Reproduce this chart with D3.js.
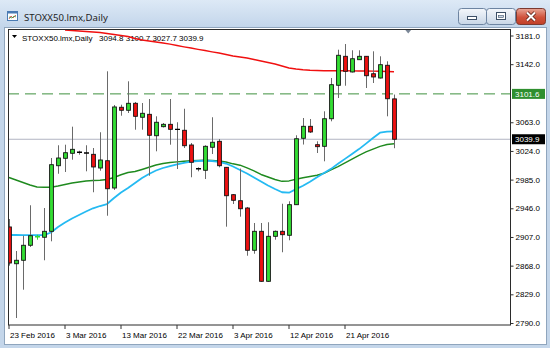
<!DOCTYPE html>
<html lang="en">
  <head>
    <meta charset="utf-8" />
    <title>STOXX50.lmx,Daily</title>
    <script src="https://cdn.jsdelivr.net/npm/d3@7"></script>
    <style>
      body { margin: 0; background: #fff; }
      svg { display: block; }
      .ax text { font-family: "Liberation Sans", Arial, sans-serif; font-size: 8px; fill: #000; }
    </style>
  </head>
  <body>
    <script>
      //Width and height
      var w = 550;
      var h = 348;

      //Bars (daily, Sunday sessions included)
      var dates = [
        "2016-02-23", "2016-02-24", "2016-02-25", "2016-02-26", "2016-02-28", "2016-02-29",
        "2016-03-01", "2016-03-02", "2016-03-03", "2016-03-04", "2016-03-06", "2016-03-07",
        "2016-03-08", "2016-03-09", "2016-03-10", "2016-03-11", "2016-03-13", "2016-03-14",
        "2016-03-15", "2016-03-16", "2016-03-17", "2016-03-18", "2016-03-20", "2016-03-21",
        "2016-03-22", "2016-03-23", "2016-03-24", "2016-03-27", "2016-03-29", "2016-03-30",
        "2016-03-31", "2016-04-01", "2016-04-03", "2016-04-04", "2016-04-05", "2016-04-06",
        "2016-04-07", "2016-04-08", "2016-04-10", "2016-04-11", "2016-04-12", "2016-04-13",
        "2016-04-14", "2016-04-15", "2016-04-17", "2016-04-18", "2016-04-19", "2016-04-20",
        "2016-04-21", "2016-04-22", "2016-04-24", "2016-04-25", "2016-04-26", "2016-04-27",
        "2016-04-28", "2016-04-29"
      ];

      var open = [
        2920.6, 2870.6, 2875.3, 2895.7, 2907.0, 2906.6, 2914.7, 3003.9, 3014.0, 3020.8,
        3022.2, 3021.2, 3019.4, 3000.8, 3010.7, 2973.6, 3083.4, 3079.3, 3088.8, 3069.8,
        3073.8, 3044.7, 3057.0, 3060.2, 3053.4, 3052.1, 3032.1, 2999.8, 2997.7, 3029.0,
        3037.1, 3001.7, 2964.5, 2956.3, 2946.4, 2888.9, 2914.7, 2846.7, 2907.9, 2914.7,
        2909.3, 2950.9, 3041.2, 3057.5, 3032.5, 3030.3, 3067.8, 3113.3, 3152.7, 3131.4,
        3148.1, 3152.7, 3129.0, 3123.2, 3140.5, 3094.8
      ];
      var high = [
        2931.4, 2887.9, 2908.7, 2950.1, 2910.0, 2946.4, 3014.4, 3031.7, 3032.5, 3057.0,
        3024.3, 3031.7, 3028.0, 3049.4, 3132.3, 3086.5, 3086.9, 3118.7, 3090.6, 3089.2,
        3094.6, 3071.1, 3062.0, 3094.6, 3063.0, 3081.4, 3034.8, 3001.7, 3031.7, 3069.8,
        3040.2, 3002.2, 2965.4, 3000.0, 2947.8, 2926.0, 2926.0, 2927.0, 2915.8, 2952.2,
        2955.5, 3045.3, 3068.8, 3067.4, 3037.1, 3077.9, 3123.2, 3161.7, 3169.4, 3160.9,
        3160.9, 3153.1, 3159.5, 3152.7, 3145.9, 3100.7
      ];
      var low = [
        2868.0, 2796.8, 2835.3, 2893.4, 2903.3, 2875.3, 2901.1, 2993.0, 2995.4, 3012.1,
        3018.9, 2996.3, 2967.8, 2997.1, 2935.9, 2970.9, 3071.9, 3075.6, 3052.9, 3052.9,
        2990.3, 3023.5, 3055.9, 3032.5, 2999.4, 3028.0, 2988.2, 2996.3, 2985.8, 3019.8,
        3001.7, 2921.0, 2951.8, 2934.6, 2881.5, 2884.2, 2846.0, 2846.0, 2903.3, 2886.2,
        2902.5, 2950.5, 3032.7, 3048.4, 3021.2, 3009.9, 3064.3, 3096.0, 3112.7, 3130.7,
        3148.1, 3109.6, 3116.4, 3122.5, 3071.1, 3027.7
      ];
      var close = [
        2871.6, 2875.3, 2895.7, 2908.7, 2907.3, 2914.7, 3005.3, 3014.4, 3021.6, 3026.2,
        3022.2, 3021.2, 3002.2, 3011.7, 2972.6, 3083.8, 3079.3, 3088.8, 3071.1, 3075.2,
        3045.3, 3063.0, 3060.2, 3053.4, 3053.4, 3031.1, 3008.6, 2999.8, 3030.3, 3035.8,
        3003.9, 2963.1, 2956.9, 2945.4, 2888.9, 2914.7, 2846.7, 2907.9, 2914.7, 2910.1,
        2950.9, 3040.6, 3057.5, 3049.8, 3029.8, 3067.8, 3114.1, 3154.1, 3132.3, 3149.4,
        3152.7, 3126.3, 3124.6, 3141.3, 3095.0, 3039.9
      ];

      //Moving averages (red = slow, green = medium, blue = fast)
      var maRed = [
        null, null, null, null, null, null, null, null, 3188.5, 3187.8,
        3187.1, 3186.4, 3185.8, 3185.1, 3183.7, 3182.4, 3181.0, 3179.6, 3176.9, 3174.9,
        3173.5, 3172.2, 3170.8, 3169.2, 3167.4, 3165.6, 3164.0, 3162.2, 3160.6, 3158.8,
        3157.2, 3155.2, 3153.1, 3151.8, 3150.4, 3148.4, 3146.3, 3144.3, 3142.2, 3139.5,
        3136.8, 3135.4, 3134.4, 3133.7, 3133.3, 3133.1, 3133.0, 3133.0, 3133.0, 3132.9,
        3132.7, 3132.7, 3132.6, 3132.3, 3132.0, 3131.8
      ];
      var maGreen = [
        2987.9, 2984.5, 2981.1, 2977.7, 2975.0, 2974.6, 2974.7, 2976.3, 2978.4, 2980.4,
        2981.8, 2983.1, 2983.8, 2984.2, 2985.2, 2987.9, 2991.6, 2994.7, 2996.0, 2998.8,
        3001.8, 3004.9, 3006.9, 3008.3, 3009.2, 3010.0, 3010.6, 3011.0, 3011.3, 3011.0,
        3010.3, 3009.0, 3006.5, 3004.6, 3001.0, 2996.8, 2992.0, 2988.6, 2985.2, 2982.7,
        2983.2, 2985.5, 2987.5, 2989.2, 2990.9, 2993.6, 2998.1, 3002.8, 3007.9, 3013.0,
        3018.1, 3022.6, 3026.6, 3030.3, 3032.8, 3033.8
      ];
      var maBlue = [
        2909.7, 2909.7, 2909.4, 2909.4, 2909.4, 2909.4, 2913.1, 2920.6, 2926.7, 2932.1,
        2936.9, 2941.6, 2946.0, 2949.1, 2951.8, 2960.0, 2967.5, 2973.6, 2980.4, 2987.2,
        2992.6, 2997.4, 3000.8, 3003.5, 3005.8, 3007.9, 3009.6, 3010.3, 3010.7, 3010.3,
        3009.2, 3006.9, 3002.8, 2998.1, 2993.3, 2987.9, 2982.4, 2977.0, 2972.2, 2967.8,
        2967.2, 2972.0, 2976.7, 2982.2, 2988.2, 2994.1, 2999.6, 3006.5, 3013.2, 3019.8,
        3026.5, 3034.0, 3041.5, 3048.8, 3050.4, 3050.7
      ];

      //Axis ticks
      var priceTicks = [3181, 3142, 3063, 3024, 2985, 2946, 2907, 2868, 2829, 2790];
      var dateTicks = ["2016-02-23", "2016-03-03", "2016-03-13", "2016-03-22", "2016-04-03", "2016-04-12", "2016-04-21"];
      var dateLabels = ["23 Feb 2016", "3 Mar 2016", "13 Mar 2016", "22 Mar 2016", "3 Apr 2016", "12 Apr 2016", "21 Apr 2016"];

      var levelPrice = 3101.6;
      var lastPrice = 3039.9;
      var symbol = "STOXX50.lmx,Daily";

      //Plot box
      var pl = 8, pr = 511, pt = 29, pb = 325;

      var xScale = d3
        .scaleBand()
        .domain(dates)
        .range([pl - 2.5, pl - 2.5 + dates.length * 7]);
      var bw = xScale.bandwidth();
      function cx(d) {
        return xScale(d) + bw / 2;
      }

      var yScale = d3.scaleLinear().domain([2790, 3181]).range([323, 35.5]);

      var svg = d3
        .select("body")
        .append("svg")
        .attr("width", w)
        .attr("height", h);

      var defs = svg.append("defs");
      var tg = defs.append("linearGradient").attr("id", "tbar").attr("x1", 0).attr("y1", 0).attr("x2", 0).attr("y2", 1);
      tg.append("stop").attr("offset", "0%").attr("stop-color", "#dde9f6");
      tg.append("stop").attr("offset", "100%").attr("stop-color", "#c2d5ea");
      var bg = defs.append("linearGradient").attr("id", "btn").attr("x1", 0).attr("y1", 0).attr("x2", 0).attr("y2", 1);
      bg.append("stop").attr("offset", "0%").attr("stop-color", "#f4f7fb");
      bg.append("stop").attr("offset", "100%").attr("stop-color", "#c8d6e6");
      var rg = defs.append("linearGradient").attr("id", "cbtn").attr("x1", 0).attr("y1", 0).attr("x2", 0).attr("y2", 1);
      rg.append("stop").attr("offset", "0%").attr("stop-color", "#e9a797");
      rg.append("stop").attr("offset", "55%").attr("stop-color", "#d0533c");
      rg.append("stop").attr("offset", "100%").attr("stop-color", "#c13f27");
      defs.append("clipPath").attr("id", "plot")
        .append("rect")
        .attr("x", pl + 0.5).attr("y", pt + 0.5)
        .attr("width", pr - pl - 1).attr("height", pb - pt - 1);

      //Window frame
      svg.append("rect").attr("width", w).attr("height", h).attr("fill", "#c4d6ea");
      svg.append("rect").attr("width", w).attr("height", 28).attr("fill", "url(#tbar)");
      svg.append("rect")
        .attr("x", 4.5).attr("y", 27.5).attr("width", 542).attr("height", 317)
        .attr("fill", "#fff").attr("stroke", "#8fa5bd");

      //Title icon
      var icon = svg.append("g");
      icon.append("rect").attr("x", 7.5).attr("y", 11.5).attr("width", 10).attr("height", 9)
        .attr("fill", "#fff").attr("stroke", "#4a7bb3");
      icon.append("rect").attr("x", 7.5).attr("y", 11.5).attr("width", 10).attr("height", 2).attr("fill", "#4a7bb3");
      icon.append("path").attr("d", "M9,19 L11,16 L13,18 L16,15").attr("fill", "none").attr("stroke", "#d23c3c").attr("stroke-width", 0.8);
      icon.append("path").attr("d", "M9,17 L12,18 L14,16 L16,17").attr("fill", "none").attr("stroke", "#3c9c3c").attr("stroke-width", 0.8);

      svg.append("text")
        .attr("x", 24).attr("y", 20.5)
        .attr("font-family", "'Noto Sans', sans-serif").attr("font-size", "9.6px").attr("fill", "#1e1e1e")
        .text(symbol);

      //Window buttons
      svg.append("rect").attr("x", 458.5).attr("y", 8.5).attr("width", 28).attr("height", 16).attr("rx", 3)
        .attr("fill", "url(#btn)").attr("stroke", "#6d84a1");
      svg.append("rect").attr("x", 486.5).attr("y", 8.5).attr("width", 29).attr("height", 16).attr("rx", 3)
        .attr("fill", "url(#btn)").attr("stroke", "#6d84a1");
      svg.append("rect").attr("x", 516.5).attr("y", 8.5).attr("width", 29).attr("height", 16).attr("rx", 3)
        .attr("fill", "url(#cbtn)").attr("stroke", "#7c3a30");
      svg.append("rect").attr("x", 467.5).attr("y", 16.5).attr("width", 9).attr("height", 3)
        .attr("fill", "#fff").attr("stroke", "#3c4f66");
      svg.append("rect").attr("x", 496.5).attr("y", 12.5).attr("width", 9).attr("height", 7)
        .attr("fill", "#fff").attr("stroke", "#3c4f66");
      svg.append("rect").attr("x", 498.5).attr("y", 15.5).attr("width", 5).attr("height", 2)
        .attr("fill", "#c9d6e5").attr("stroke", "#3c4f66").attr("stroke-width", 0.6);
      svg.append("path").attr("d", "M527,12.5 L535,20.5 M535,12.5 L527,20.5")
        .attr("stroke", "#5a1f16").attr("stroke-width", 3.6);
      svg.append("path").attr("d", "M527,12.5 L535,20.5 M535,12.5 L527,20.5")
        .attr("stroke", "#fff").attr("stroke-width", 2);

      //Header
      svg.append("path").attr("d", "M12,35 L17,35 L14.5,38 Z").attr("fill", "#000");
      svg.append("text").attr("class", "hd")
        .attr("x", 22).attr("y", 40.5)
        .attr("font-family", "'Liberation Sans', Arial, sans-serif").attr("font-size", "8px")
        .text(symbol);
      svg.append("text")
        .attr("x", 99).attr("y", 40.5)
        .attr("font-family", "'Liberation Sans', Arial, sans-serif").attr("font-size", "8px")
        .text([open, high, low, close].map(function (a) { return a[a.length - 1].toFixed(1); }).join(" "));

      var plot = svg.append("g").attr("clip-path", "url(#plot)");

      //Level line and bid line
      plot.append("line")
        .attr("x1", pl).attr("x2", pr)
        .attr("y1", yScale(levelPrice)).attr("y2", yScale(levelPrice))
        .attr("stroke", "#3f913f").attr("stroke-width", 1).attr("stroke-dasharray", "11,6");
      plot.append("line")
        .attr("x1", pl).attr("x2", pr)
        .attr("y1", yScale(lastPrice)).attr("y2", yScale(lastPrice))
        .attr("stroke", "#b1b4c2").attr("stroke-width", 1);

      //Moving averages
      function maLine(vals, color, width) {
        var line = d3
          .line()
          .defined(function (d) { return d != null; })
          .x(function (d, i) { return cx(dates[i]); })
          .y(function (d) { return yScale(d); });
        plot.append("path")
          .datum(vals)
          .attr("d", line)
          .attr("fill", "none")
          .attr("stroke", color)
          .attr("stroke-width", width)
          .attr("stroke-linejoin", "round");
      }
      maLine(maRed, "#f01010", 1.4);
      maLine(maGreen, "#1f8a1f", 1.4);
      maLine(maBlue, "#25baf2", 1.8);

      //Candles
      var idx = d3.range(dates.length);
      function isDoji(i) {
        return Math.abs(close[i] - open[i]) < 1;
      }
      function dojiColor(i) {
        if (close[i] > open[i]) return "#33dd33";
        if (close[i] < open[i]) return "#e01818";
        return "#000";
      }

      plot.selectAll("line.wick")
        .data(idx)
        .enter()
        .append("line")
        .attr("class", "wick")
        .attr("x1", function (i) { return cx(dates[i]) + 0.5; })
        .attr("x2", function (i) { return cx(dates[i]) + 0.5; })
        .attr("y1", function (i) { return yScale(high[i]); })
        .attr("y2", function (i) { return yScale(low[i]); })
        .attr("stroke", function (i) { return isDoji(i) && close[i] > open[i] ? "#33dd33" : "#6a6a6a"; })
        .attr("stroke-width", 1);

      plot.selectAll("rect.body")
        .data(idx.filter(function (i) { return !isDoji(i); }))
        .enter()
        .append("rect")
        .attr("class", "body")
        .attr("x", function (i) { return cx(dates[i]) - 1.4; })
        .attr("y", function (i) { return yScale(Math.max(open[i], close[i])); })
        .attr("width", 3.8)
        .attr("height", function (i) { return Math.abs(yScale(open[i]) - yScale(close[i])); })
        .attr("fill", function (i) { return close[i] > open[i] ? "#33dd33" : "#ee1111"; })
        .attr("stroke", "#111")
        .attr("stroke-width", 0.9);

      plot.selectAll("line.doji")
        .data(idx.filter(isDoji))
        .enter()
        .append("line")
        .attr("class", "doji")
        .attr("x1", function (i) { return cx(dates[i]) - 2; })
        .attr("x2", function (i) { return cx(dates[i]) + 3; })
        .attr("y1", function (i) { return yScale(close[i]); })
        .attr("y2", function (i) { return yScale(close[i]); })
        .attr("stroke", dojiColor)
        .attr("stroke-width", 1.3);

      //Shift marker
      svg.append("path").attr("d", "M405,29.5 L411.5,29.5 L408.2,33.5 Z").attr("fill", "#7b8797");

      //Frame
      svg.append("rect")
        .attr("x", pl + 0.5).attr("y", pt + 0.5)
        .attr("width", pr - pl - 1).attr("height", pb - pt - 0.5)
        .attr("fill", "none").attr("stroke", "#2b2b2b");

      //Price axis
      var yAxis = d3
        .axisRight(yScale)
        .tickValues(priceTicks)
        .tickSize(3)
        .tickPadding(2)
        .tickFormat(d3.format(".1f"));
      var gy = svg.append("g").attr("class", "ax").attr("transform", "translate(" + (pr - 0.5) + ",0)").call(yAxis);
      gy.select(".domain").remove();
      gy.selectAll(".tick line").attr("stroke", "#333");

      //Price tags
      function tag(price, color) {
        var y = yScale(price);
        svg.append("rect")
          .attr("x", pr + 1).attr("y", y - 5)
          .attr("width", 33).attr("height", 10)
          .attr("fill", color);
        svg.append("text")
          .attr("class", "tagtxt")
          .attr("x", pr + 4).attr("y", y + 3)
          .attr("font-family", "'Liberation Sans', Arial, sans-serif").attr("font-size", "8px")
          .attr("fill", "#fff")
          .text(price.toFixed(1));
      }
      tag(levelPrice, "#2f8f2f");
      tag(lastPrice, "#000");

      //Date axis
      var xAxis = d3
        .axisBottom(xScale)
        .tickValues(dateTicks)
        .tickSize(4)
        .tickPadding(3)
        .tickFormat(function (d) { return dateLabels[dateTicks.indexOf(d)]; });
      var gx = svg.append("g").attr("class", "ax").attr("transform", "translate(0," + pb + ")").call(xAxis);
      gx.select(".domain").remove();
      gx.selectAll(".tick line").attr("stroke", "#333");
      gx.selectAll(".tick text").attr("text-anchor", "start").attr("x", 1);
    </script>
  </body>
</html>
